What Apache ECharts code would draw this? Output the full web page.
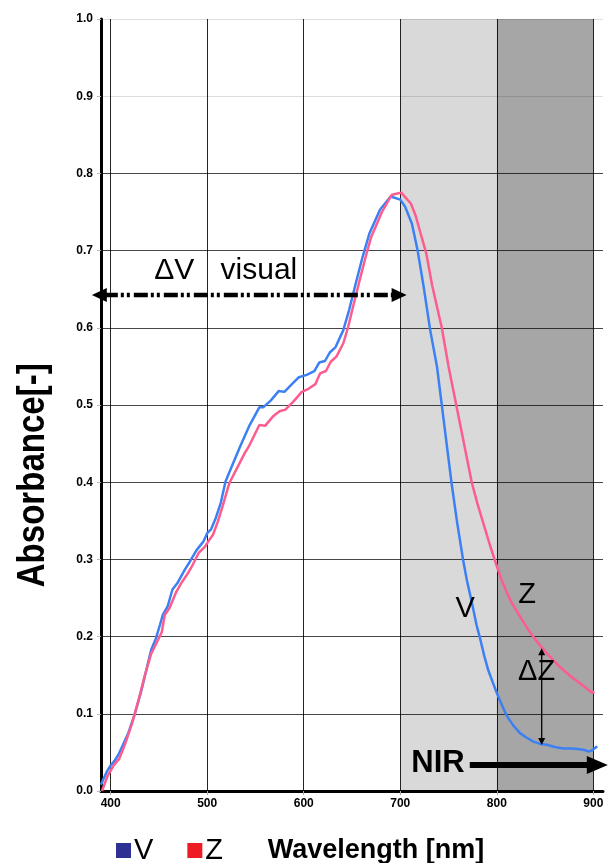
<!DOCTYPE html>
<html>
<head>
<meta charset="utf-8">
<script src="https://cdn.jsdelivr.net/npm/echarts@6/dist/echarts.min.js"></script>
<style>
html,body{margin:0;padding:0;background:#fff;}
#c{width:608px;height:863px;}
</style>
</head>
<body>
<div id="c"></div>
<script>
// ---- data ----
const vWave = [390,392,396,400,404,408,411,418,425,432,437,442,447,451,454,459,464,469,477,482,489,496,500,504,509,514,519,525,530,534,544,554,558,566,574,580,587,595,603,611,616,622,627,633,641,647,654,661,668,679,690,700,705,712,718,724,731,738,743,748,753,759,765,769,774,779,783,787,791,796,800,805,810,817,824,831,838,845,852,860,869,878,886,891,895,899,904];
const vAbs  = [0.008,0.014,0.025,0.033,0.039,0.047,0.055,0.074,0.100,0.131,0.157,0.183,0.198,0.215,0.228,0.239,0.261,0.269,0.287,0.297,0.312,0.323,0.334,0.339,0.354,0.373,0.401,0.419,0.434,0.446,0.474,0.497,0.497,0.506,0.518,0.517,0.526,0.536,0.539,0.544,0.555,0.557,0.568,0.575,0.597,0.623,0.658,0.692,0.722,0.753,0.770,0.766,0.757,0.735,0.700,0.655,0.597,0.550,0.500,0.450,0.400,0.347,0.300,0.273,0.245,0.215,0.196,0.175,0.157,0.140,0.127,0.112,0.098,0.085,0.075,0.069,0.064,0.061,0.060,0.057,0.055,0.055,0.054,0.053,0.051,0.053,0.058];

const zWave = [391,397,403,409,415,422,429,435,442,448,453,456,461,468,473,480,485,491,498,501,506,511,516,523,530,539,543,554,560,568,575,581,589,598,605,612,617,623,628,634,641,646,651,658,665,670,681,691,697,701,706,711,716,720,727,733,743,750,758,766,774,780,786,793,799,806,814,824,832,840,852,865,879,891,899,901];
const zAbs  = [0.000,0.020,0.033,0.042,0.061,0.087,0.118,0.148,0.178,0.193,0.206,0.228,0.237,0.258,0.269,0.282,0.293,0.308,0.317,0.323,0.332,0.349,0.369,0.399,0.416,0.438,0.446,0.474,0.473,0.485,0.492,0.494,0.504,0.517,0.521,0.527,0.541,0.544,0.556,0.563,0.580,0.601,0.627,0.662,0.696,0.718,0.750,0.772,0.774,0.775,0.768,0.761,0.745,0.727,0.696,0.655,0.600,0.550,0.500,0.450,0.400,0.372,0.347,0.318,0.295,0.270,0.247,0.226,0.210,0.196,0.178,0.161,0.146,0.135,0.127,0.129];

const seriesNames = ['V', 'Z'];
const lineColors = ['#3c80f4', '#fd5c8e'];
const legendColors = ['#2e3192', '#ed1c24'];
const bands = [[700, 800], [800, 900]];
const bandColors = ['#d9d9d9', '#a6a6a6'];
const yTickLabels = ['0.0','0.1','0.2','0.3','0.4','0.5','0.6','0.7','0.8','0.9','1.0'];
const yTitle = 'Absorbance[-]';

const FONT = '"Liberation Sans", Arial, Helvetica, sans-serif';

const ySplitColors = yTickLabels.map((t, i) => i >= 9 ? 'rgba(0,0,0,0.13)' : 'rgba(0,0,0,0.72)');

const chart = echarts.init(document.getElementById('c'), null, {renderer: 'canvas'});

const option = {
  animation: false,
  backgroundColor: '#fff',
  grid: {left: 101, right: 5, top: 19, bottom: 72, containLabel: false, outerBoundsMode: 'none'},
  legend: {
    left: 111, top: 831, icon: 'rect', itemWidth: 15, itemHeight: 15, itemGap: 34,
    itemStyle: {borderWidth: 0},
    textStyle: {fontFamily: FONT, fontSize: 29, color: '#000', padding: [0, 0, 0, -2]},
    data: seriesNames.map((n, i) => ({name: n, itemStyle: {color: legendColors[i], borderWidth: 0}}))
  },
  xAxis: {
    type: 'value', min: 390, max: 910, splitNumber: 5, z: 2,
    axisLine: {show: true, onZero: false, lineStyle: {color: '#000', width: 3}},
    axisTick: {show: true, length: 4, lineStyle: {color: '#aaa'}},
    axisLabel: {showMinLabel: false, showMaxLabel: false, color: '#000', fontWeight: 'bold', fontSize: 12, margin: 7, fontFamily: FONT},
    splitLine: {show: true, showMinLine: false, showMaxLine: false, lineStyle: {color: 'rgba(0,0,0,0.85)', width: 1}},
    name: 'Wavelength [nm]', nameLocation: 'middle', nameGap: 46,
    nameTextStyle: {fontFamily: FONT, fontWeight: 'bold', fontSize: 27, color: '#000', padding: [0, 0, 0, 48]}
  },
  yAxis: {
    type: 'value', min: 0, max: 1, interval: 0.1, z: 2,
    axisLine: {show: true, lineStyle: {color: '#000', width: 3}},
    axisTick: {show: true, length: 4, lineStyle: {color: '#bbb'}},
    axisLabel: {formatter: (v) => yTickLabels[Math.round(v * 10)], color: '#000', fontWeight: 'bold', fontSize: 12, margin: 8, fontFamily: FONT},
    splitLine: {show: true, lineStyle: {color: ySplitColors, width: 1}}
  },
  series: [
    {
      name: seriesNames[0], type: 'line', z: 3, symbol: 'none', showSymbol: false,
      data: vWave.map((w, i) => [w, vAbs[i]]),
      lineStyle: {color: lineColors[0], width: 2.5}, itemStyle: {color: lineColors[0]},
      markArea: {
        silent: true, z: 1,
        data: bands.map((b, i) => [{xAxis: b[0], itemStyle: {color: bandColors[i], opacity: 1}}, {xAxis: b[1]}])
      }
    },
    {
      name: seriesNames[1], type: 'line', z: 3, symbol: 'none', showSymbol: false,
      data: zWave.map((w, i) => [w, zAbs[i]]),
      lineStyle: {color: lineColors[1], width: 2.5}, itemStyle: {color: lineColors[1]}
    }
  ]
};
chart.setOption(option);

// ---- annotations placed in data coordinates ----
const P = (x, y) => chart.convertToPixel({gridIndex: 0}, [x, y]);
function head(tip, dx, dy, len, half) {
  const bx = tip[0] - dx * len, by = tip[1] - dy * len;
  return {type: 'polygon', z: 100, silent: true,
    shape: {points: [tip, [bx - dy * half, by + dx * half], [bx + dy * half, by - dx * half]]},
    style: {fill: '#000'}};
}
function txt(x, y, s, font) {
  const p = P(x, y);
  return {type: 'text', z: 100, silent: true,
    style: {text: s, x: p[0], y: p[1], fill: '#000', font: font, align: 'center', verticalAlign: 'middle'}};
}
const g = [];
// y-axis title: bold, condensed look (scaled along the text)
const titleFont = 'bold 39px ' + FONT;
const mctx = document.createElement('canvas').getContext('2d');
mctx.font = titleFont;
const titleW = mctx.measureText(yTitle).width;
const titleScale = 224 / titleW;
const tc = P(390, 0.409);
g.push({type: 'text', z: 100, silent: true,
  x: tc[0] - 68, y: tc[1], rotation: Math.PI / 2, scaleX: titleScale, scaleY: 1,
  style: {text: yTitle, x: 0, y: 0, fill: '#000', font: titleFont, align: 'center', verticalAlign: 'middle'}});
// ΔV visual double arrow (dash-dot-dot)
const dvL = P(380.5, 0.6425), dvR = P(706.6, 0.6425);
g.push({type: 'line', z: 100, silent: true,
  shape: {x1: dvL[0] + 12, y1: dvL[1], x2: dvR[0] - 12, y2: dvR[1]},
  style: {stroke: '#000', lineWidth: 4.5, lineDash: [14, 3, 3, 3, 3, 4]}});
g.push(head(dvL, -1, 0, 15, 7));
g.push(head(dvR, 1, 0, 15, 7));
g.push(txt(465.9, 0.6736, 'ΔV', '30px ' + FONT));
g.push(txt(553.6, 0.6736, 'visual', '30px ' + FONT));
// curve labels
g.push(txt(767.1, 0.2358, 'V', '29px ' + FONT));
g.push(txt(831.3, 0.254, 'Z', '29px ' + FONT));
// ΔZ arrow
const dzT = P(846.5, 0.185), dzB = P(846.5, 0.0596);
g.push({type: 'line', z: 100, silent: true,
  shape: {x1: dzT[0], y1: dzT[1] + 6, x2: dzB[0], y2: dzB[1] - 6},
  style: {stroke: '#000', lineWidth: 1.3}});
g.push(head(dzT, 0, -1, 7, 3.5));
g.push(head(dzB, 0, 1, 7, 3.5));
g.push(txt(841.2, 0.1535, 'ΔZ', '29px ' + FONT));
// NIR arrow
const nL = P(772, 0.0337), nR = P(915, 0.0337);
g.push({type: 'line', z: 100, silent: true,
  shape: {x1: nL[0], y1: nL[1], x2: nR[0] - 18, y2: nR[1]},
  style: {stroke: '#000', lineWidth: 6}});
g.push(head(nR, 1, 0, 21, 9));
g.push(txt(739.1, 0.0359, 'NIR', 'bold 31px ' + FONT));

chart.setOption({graphic: g});
</script>
</body>
</html>
